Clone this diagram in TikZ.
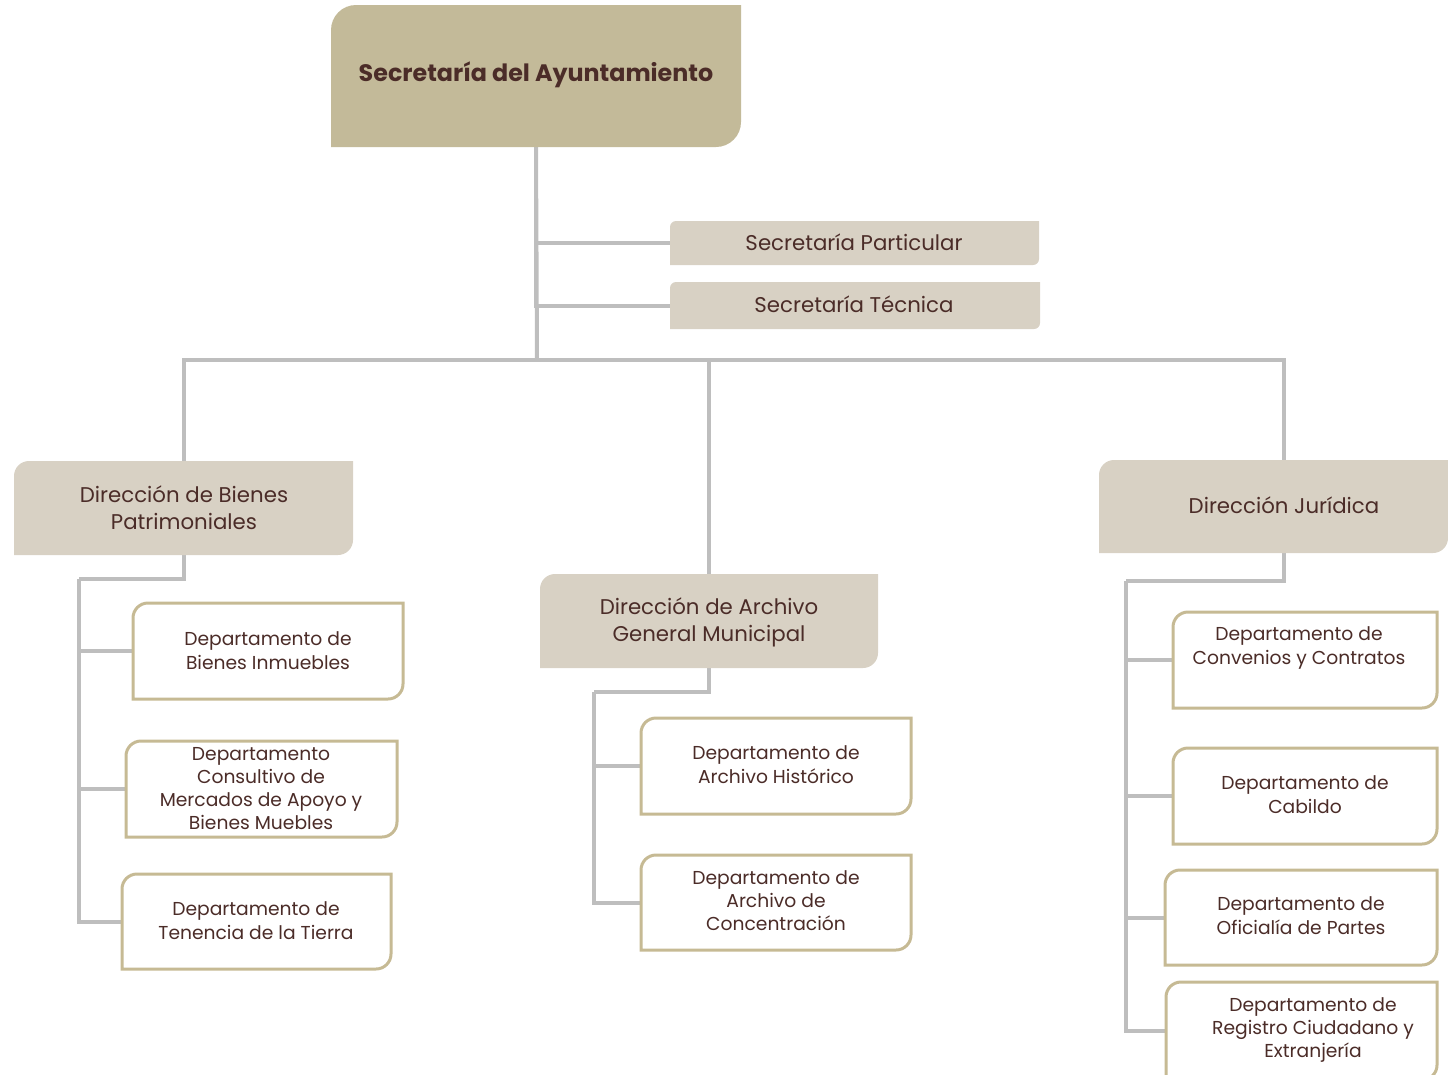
\documentclass[tikz,border=0pt]{standalone}
\usepackage{fontspec}
\setmainfont{Poppins}
\definecolor{toptan}{HTML}{C3BA99}
\definecolor{dirfill}{HTML}{D8D1C4}
\definecolor{deptborder}{HTML}{C6BA94}
\definecolor{txt}{HTML}{4B2C28}
\definecolor{conn}{HTML}{BEBEBE}
\newcommand\leafpath[3]{%
  \path[#1] (#2.south west) -- ([yshift=-#3]#2.north west)
    arc[start angle=180,end angle=90,radius=#3] -- (#2.north east)
    -- ([yshift=#3]#2.south east)
    arc[start angle=0,end angle=-90,radius=#3] -- cycle;}
\tikzset{
  boxgeom/.style 2 args={minimum width=#1, minimum height=#2, inner sep=0pt, outer sep=0pt},
  connline/.style={draw=conn, line width=4pt, line join=miter},
  dirshape/.style={fill=dirfill},
  topshape/.style={fill=toptan},
  deptshape/.style={fill=white, draw=deptborder, line width=3pt},
  depttext/.style={align=center, text=txt, inner sep=0pt, font=\fontsize{18.7}{24}\selectfont},
  dirtext/.style={align=center, text=txt, inner sep=0pt, font=\fontsize{21.3}{27}\selectfont},
  toptext/.style={align=center, text=txt, inner sep=0pt, font=\fontsize{23.8}{28}\selectfont\bfseries},
}
\begin{document}
\begin{tikzpicture}[x=1pt,y=1pt]
\useasboundingbox (0,0) rectangle (1448,-1074);
\clip (0,0) rectangle (1448,-1074);
% box geometry
\node[boxgeom={410pt}{142pt}] (top) at (536,-76) {};
\node[boxgeom={369pt}{44pt}] (sp) at (854.5,-243) {};
\node[boxgeom={370pt}{47pt}] (st) at (855,-305.5) {};
\node[boxgeom={339pt}{94pt}] (db) at (183.5,-508) {};
\node[boxgeom={349pt}{93pt}] (dj) at (1273.5,-506.5) {};
\node[boxgeom={338pt}{94pt}] (da) at (709,-621) {};
\node[boxgeom={270pt}{96pt}] (b1) at (268,-651) {};
\node[boxgeom={271pt}{96pt}] (b2) at (261.5,-789) {};
\node[boxgeom={269pt}{95pt}] (b3) at (256.5,-921.5) {};
\node[boxgeom={270pt}{96pt}] (a1) at (776,-766) {};
\node[boxgeom={270pt}{95pt}] (a2) at (776,-902.5) {};
\node[boxgeom={264pt}{96pt}] (j1) at (1305,-660) {};
\node[boxgeom={264pt}{96pt}] (j2) at (1305,-796) {};
\node[boxgeom={272pt}{95pt}] (j3) at (1301,-917.5) {};
\node[boxgeom={271pt}{98pt}] (j4) at (1301.5,-1031) {};
% junction coordinates
\coordinate (hub) at (537,-360);
\coordinate (djtop) at (1284,-460);
\coordinate (djbot) at (1284,-553);
\coordinate (bbus) at (79,-579);
\coordinate (abus) at (594,-692);
\coordinate (jbus) at (1126,-581);
% connectors
\draw[connline] (top.south) |- (sp.west);
\draw[connline] (top.south) |- (st.west);
\draw[connline] (top.south) -- (hub);
\draw[connline] (hub) -| (db.north);
\draw[connline] (hub) -| (da.north);
\draw[connline] (hub) -| (djtop);
\draw[connline] (db.south) |- (bbus);
\draw[connline] (bbus) |- (b1.west);
\draw[connline] (bbus) |- (b2.west);
\draw[connline] (bbus) |- (b3.west);
\draw[connline] (da.south) |- (abus);
\draw[connline] (abus) |- (a1.west);
\draw[connline] (abus) |- (a2.west);
\draw[connline] (djbot) |- (jbus);
\draw[connline] (jbus) |- (j1.west);
\draw[connline] (jbus) |- (j2.west);
\draw[connline] (jbus) |- (j3.west);
\draw[connline] (jbus) |- (j4.west);
% shapes
\leafpath{topshape}{top}{25pt}
\leafpath{dirshape}{sp}{6pt}
\leafpath{dirshape}{st}{6pt}
\leafpath{dirshape}{db}{15pt}
\leafpath{dirshape}{dj}{15pt}
\leafpath{dirshape}{da}{15pt}
\foreach \n in {b1,b2,b3,a1,a2,j1,j2,j3,j4}{\leafpath{deptshape}{\n}{15pt}}
% texts
\node[toptext] (topt) at (536,-75) {Secretaría del Ayuntamiento};
\node[dirtext] (spt) at (854,-242) {Secretaría Particular};
\node[dirtext] (stt) at (854,-304) {Secretaría Técnica};
\node[dirtext] (dbt) at (184,-508) {Dirección de Bienes\\Patrimoniales};
\node[dirtext] (djt) at (1284,-505) {Dirección Jurídica};
\node[dirtext] (dat) at (709,-622) {Dirección de Archivo\\General Municipal};
\node[depttext] (b1t) at (268,-651) {Departamento de\\Bienes Inmuebles};
\node[depttext, font=\fontsize{18.7}{23}\selectfont] (b2t) at (261,-789) {Departamento\\Consultivo de\\Mercados de Apoyo y\\Bienes Muebles};
\node[depttext] (b3t) at (256,-921) {Departamento de\\Tenencia de la Tierra};
\node[depttext] (a1t) at (776,-765) {Departamento de\\Archivo Histórico};
\node[depttext, font=\fontsize{18.7}{23}\selectfont] (a2t) at (776,-901) {Departamento de\\Archivo de\\Concentración};
\node[depttext] (j1t) at (1299,-648) {Departamento de\\Convenios y Contratos};
\node[depttext] (j2t) at (1305,-795) {Departamento de\\Cabildo};
\node[depttext] (j3t) at (1301,-916) {Departamento de\\Oficialía de Partes};
\node[depttext, font=\fontsize{18.7}{23}\selectfont] (j4t) at (1313,-1030) {Departamento de\\Registro Ciudadano y\\Extranjería};
\end{tikzpicture}
\end{document}
